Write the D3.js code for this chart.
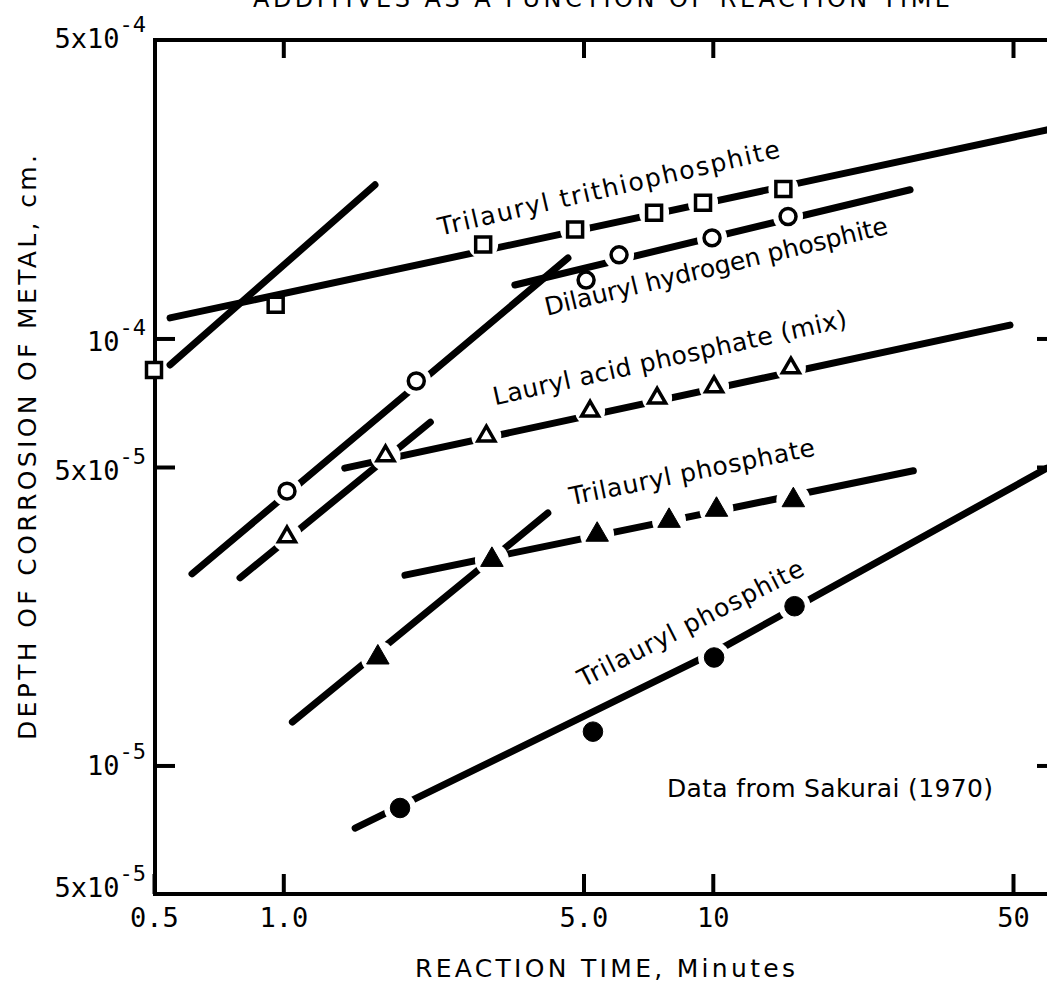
<!DOCTYPE html>
<html>
<head>
<meta charset="utf-8">
<script src="https://cdn.jsdelivr.net/npm/d3@7"></script>
<style>
  body { margin: 0; background: #fff; }
  svg { display: block; }
  text { fill: #000; }
</style>
</head>
<body>
<div id="chart"></div>
<script>
const WIDTH  = 1047;
const HEIGHT = 986;

// reaction time (minutes) and corrosion depth (cm)
const trithioTime    = [0.50, 0.96, 2.92, 4.78, 7.30, 9.49, 14.6];
const trithioDepth   = [8.44e-5, 1.20e-4, 1.66e-4, 1.80e-4, 1.97e-4, 2.08e-4, 2.24e-4];
const hydrogenTime   = [1.02, 2.04, 5.07, 6.05, 9.96, 14.97];
const hydrogenDepth  = [4.39e-5, 7.95e-5, 1.37e-4, 1.57e-4, 1.72e-4, 1.93e-4];
const acidTime       = [1.02, 1.73, 2.97, 5.18, 7.42, 10.07, 15.2];
const acidDepth      = [3.43e-5, 5.31e-5, 5.91e-5, 6.76e-5, 7.25e-5, 7.70e-5, 8.53e-5];
const phosphateTime  = [1.66, 3.06, 5.38, 7.91, 10.2, 15.4];
const phosphateDepth = [1.79e-5, 3.03e-5, 3.47e-5, 3.74e-5, 3.97e-5, 4.18e-5];
const phosphiteTime  = [1.87, 5.26, 10.07, 15.5];
const phosphiteDepth = [7.95e-6, 1.20e-5, 1.79e-5, 2.36e-5];

// hand drawn fit lines, [time, depth] vertices
const trithioFits   = [[[0.545, 8.67e-5], [1.635, 2.29e-4]], [[0.545, 1.117e-4], [60, 3.08e-4]]];
const hydrogenFits  = [[[0.613, 2.81e-5], [4.60, 1.543e-4]], [[3.46, 1.334e-4], [28.8, 2.23e-4]]];
const acidFits      = [[[0.793, 2.75e-5], [2.20, 6.37e-5]], [[1.39, 4.97e-5], [49.2, 1.075e-4]]];
const phosphateFits = [[[1.05, 1.264e-5], [4.13, 3.90e-5]], [[1.92, 2.79e-5], [29.3, 4.90e-5]]];
const phosphiteFits = [[[1.47, 7.13e-6], [10.07, 1.84e-5], [60, 4.97e-5]]];

const seriesNames = ['Trilauryl trithiophosphite', 'Dilauryl hydrogen phosphite',
                     'Lauryl acid phosphate (mix)', 'Trilauryl phosphate', 'Trilauryl phosphite'];
const labelAt     = [[2.32, 1.74e-4], [4.11, 1.13e-4], [3.11, 6.98e-5], [4.68, 4.07e-5], [4.99, 1.52e-5]];
const labelAngle  = [-13, -13.5, -12.5, -11.5, -27];
const labelLength = [350, 352, 362, 250, 250];

const xTicks      = [0.5, 1, 5, 10, 50];
const xTickLabels = ['0.5', '1.0', '5.0', '10', '50'];
const yTicks      = [5e-4, 1e-4, 5e-5, 1e-5, 5e-6];
const yTickLabels = [['5x10', '-4'], ['10', '-4'], ['5x10', '-5'], ['10', '-5'], ['5x10', '-5']];
const yLabelDy    = [8, 13, 13, 10, 3];

const TITLE  = 'ADDITIVES AS A FUNCTION OF REACTION TIME';
const XTITLE = 'REACTION TIME, Minutes';
const YTITLE = 'DEPTH OF CORROSION OF METAL, cm.';
const NOTE   = 'Data from Sakurai (1970)';
const NOTE_AT = [7.82, 8.43e-6];

const series = [
  { time: trithioTime,   depth: trithioDepth,   fits: trithioFits,   sym: d3.symbolSquare,   size: 225, fill: false, gap: 15 },
  { time: hydrogenTime,  depth: hydrogenDepth,  fits: hydrogenFits,  sym: d3.symbolCircle,   size: 200, fill: false, gap: 15 },
  { time: acidTime,      depth: acidDepth,      fits: acidFits,      sym: d3.symbolTriangle, size: 125, fill: false, gap: 15 },
  { time: phosphateTime, depth: phosphateDepth, fits: phosphateFits, sym: d3.symbolTriangle, size: 220, fill: true,  gap: 17 },
  { time: phosphiteTime, depth: phosphiteDepth, fits: phosphiteFits, sym: d3.symbolCircle,   size: 300, fill: true,  gap: 16 }
];

const LEFT = 155, TOP = 40, BOTTOM = 894, RIGHT_AXIS = 1057;
const SANS = '"DejaVu Sans", sans-serif';
const MONO = '"DejaVu Sans Mono", monospace';

const x = d3.scaleLog().domain([0.5, 50]).range([154, 1013]);
const y = d3.scaleLog().domain([5e-6, 5e-4]).range([BOTTOM, TOP]);

const svg = d3.select('#chart').append('svg')
  .attr('width', WIDTH)
  .attr('height', HEIGHT);

const defs = svg.append('defs');
const line = d3.line().x(d => x(d[0])).y(d => y(d[1]));

// frame
svg.append('path')
  .attr('d', 'M' + (WIDTH + 10) + ',' + TOP + 'H' + LEFT + 'V' + BOTTOM + 'H' + (WIDTH + 10))
  .attr('fill', 'none')
  .attr('stroke', '#000')
  .attr('stroke-width', 4);

// ticks (inward on all four sides)
const tickStyle = g => {
  g.select('.domain').remove();
  g.selectAll('.tick line').attr('stroke', '#000').attr('stroke-width', 4);
};
svg.append('g')
  .attr('transform', 'translate(0,' + BOTTOM + ')')
  .call(d3.axisBottom(x).tickValues(xTicks).tickSize(-20).tickFormat((d, i) => xTickLabels[i]))
  .call(tickStyle)
  .call(g => g.selectAll('.tick text')
    .attr('y', 33).attr('dy', null)
    .attr('font-family', MONO)
    .attr('font-size', 27).attr('fill', '#000'));
svg.append('g')
  .attr('transform', 'translate(0,' + TOP + ')')
  .call(d3.axisTop(x).tickValues(xTicks.slice(1)).tickSize(-18).tickFormat(''))
  .call(tickStyle);
svg.append('g')
  .attr('transform', 'translate(' + LEFT + ',0)')
  .call(d3.axisLeft(y).tickValues(yTicks.slice(1, 4)).tickSize(-20).tickFormat(''))
  .call(tickStyle);
svg.append('g')
  .attr('transform', 'translate(' + RIGHT_AXIS + ',0)')
  .call(d3.axisRight(y).tickValues(yTicks.slice(1, 4)).tickSize(-20).tickFormat(''))
  .call(tickStyle);

// y tick labels with exponents
const yLab = svg.append('g').selectAll('text')
  .data(yTicks)
  .join('text')
    .attr('x', 146)
    .attr('y', (d, i) => y(d) + yLabelDy[i])
    .attr('text-anchor', 'end')
    .attr('font-family', MONO)
    .attr('font-size', 27);
yLab.append('tspan').text((d, i) => yTickLabels[i][0]);
yLab.append('tspan')
  .attr('dy', -16)
  .attr('font-size', 22)
  .text((d, i) => yTickLabels[i][1]);

// fit lines, broken around their own markers
series.forEach((s, si) => {
  const pts = s.time.map((t, i) => [x(t), y(s.depth[i])]);
  const near = p => d3.min(s.fits, f => d3.min(d3.pairs(f), ([a, b]) => {
    const ax = x(a[0]), ay = y(a[1]), bx = x(b[0]), by = y(b[1]);
    const dx = bx - ax, dy = by - ay;
    const t = Math.max(0, Math.min(1, ((p[0] - ax) * dx + (p[1] - ay) * dy) / (dx * dx + dy * dy)));
    return Math.hypot(p[0] - ax - t * dx, p[1] - ay - t * dy);
  }));
  const mask = defs.append('mask').attr('id', 'gap' + si)
    .attr('maskUnits', 'userSpaceOnUse')
    .attr('x', 0).attr('y', 0).attr('width', WIDTH).attr('height', HEIGHT);
  mask.append('rect').attr('width', WIDTH).attr('height', HEIGHT).attr('fill', '#fff');
  mask.selectAll('circle')
    .data(pts.filter(p => near(p) < 9))
    .join('circle')
      .attr('cx', p => p[0]).attr('cy', p => p[1])
      .attr('r', s.gap).attr('fill', '#000');

  svg.append('g')
    .attr('mask', 'url(#gap' + si + ')')
    .selectAll('path')
    .data(s.fits)
    .join('path')
      .attr('d', line)
      .attr('fill', 'none')
      .attr('stroke', '#000')
      .attr('stroke-width', 7)
      .attr('stroke-linecap', 'round');
});

// markers
series.forEach(s => {
  svg.append('g').selectAll('path')
    .data(s.time.map((t, i) => [t, s.depth[i]]))
    .join('path')
      .attr('transform', d => 'translate(' + x(d[0]) + ',' + y(d[1]) + ')')
      .attr('d', d3.symbol(s.sym, s.size))
      .attr('fill', s.fill ? '#000' : '#fff')
      .attr('stroke', '#000')
      .attr('stroke-width', s.fill ? 1 : 3.5)
      .attr('stroke-linejoin', 'miter');
});

// series labels
svg.append('g').selectAll('text')
  .data(seriesNames)
  .join('text')
    .attr('transform', (d, i) => 'translate(' + x(labelAt[i][0]) + ',' + y(labelAt[i][1]) + ') rotate(' + labelAngle[i] + ')')
    .attr('font-family', SANS)
    .attr('font-size', 25)
    .attr('textLength', (d, i) => labelLength[i])
    .attr('lengthAdjust', 'spacing')
    .text(d => d);

svg.append('text')
  .attr('x', x(NOTE_AT[0]))
  .attr('y', y(NOTE_AT[1]))
  .attr('font-family', SANS)
  .attr('font-size', 25)
  .attr('textLength', 326).attr('lengthAdjust', 'spacing')
  .text(NOTE);

// titles (the figure title is cut by the top edge in the source)
svg.append('text')
  .attr('x', 253).attr('y', 7)
  .attr('font-family', SANS)
  .attr('font-size', 24)
  .attr('textLength', 697).attr('lengthAdjust', 'spacing')
  .text(TITLE);

svg.append('text')
  .attr('x', 415).attr('y', 977)
  .attr('font-family', SANS)
  .attr('font-size', 25)
  .attr('textLength', 380).attr('lengthAdjust', 'spacing')
  .text(XTITLE);

svg.append('text')
  .attr('transform', 'translate(36,' + 740 + ') rotate(-90)')
  .attr('font-family', SANS)
  .attr('font-size', 25)
  .attr('textLength', 585).attr('lengthAdjust', 'spacing')
  .text(YTITLE);
</script>
</body>
</html>
